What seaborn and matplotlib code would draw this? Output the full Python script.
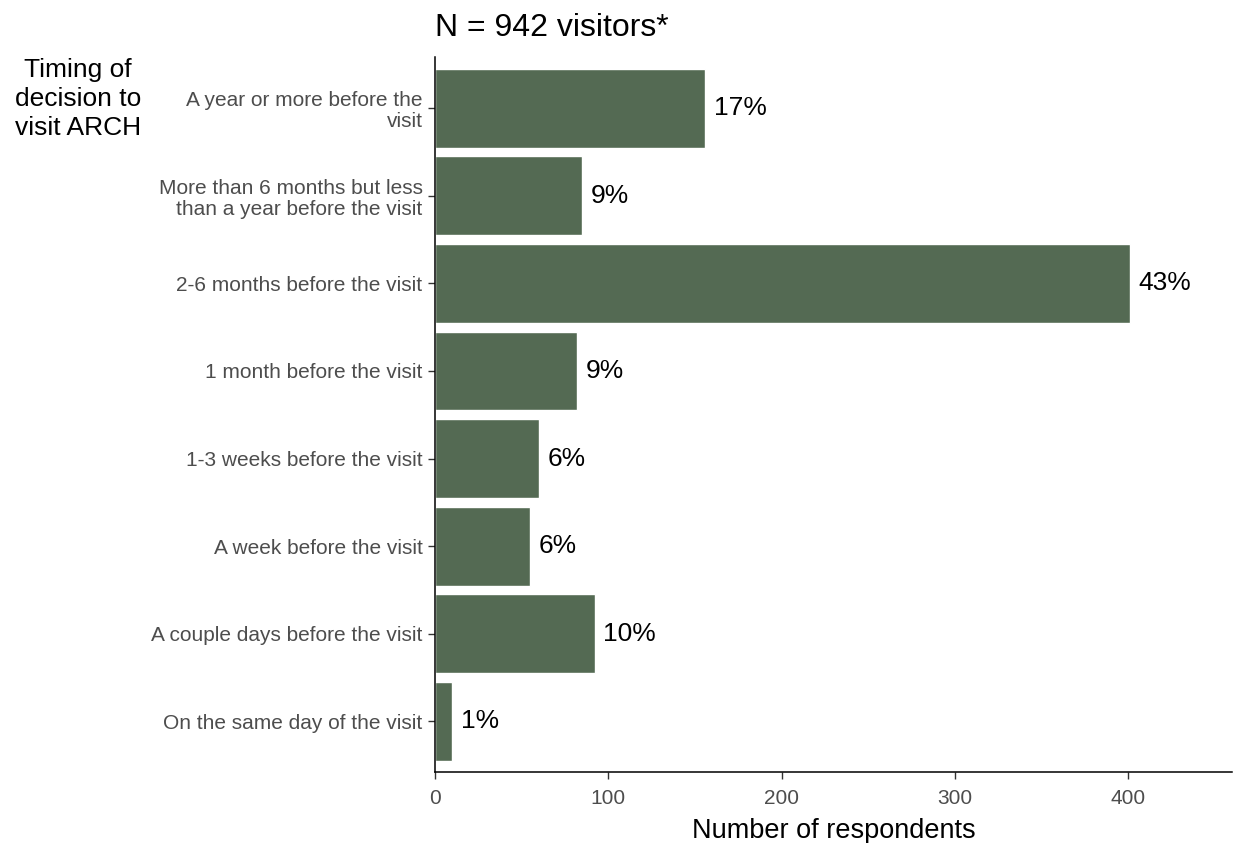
import pandas as pd
import matplotlib
matplotlib.use("Agg")
import matplotlib.pyplot as plt
import seaborn as sns


CATEGORIES = [
    "A year or more before the\nvisit",
    "More than 6 months but less\nthan a year before the visit",
    "2-6 months before the visit",
    "1 month before the visit",
    "1-3 weeks before the visit",
    "A week before the visit",
    "A couple days before the visit",
    "On the same day of the visit",
]
COUNTS = [156, 85, 401, 82, 60, 55, 92, 10]
PCT_LABELS = ["17%", "9%", "43%", "9%", "6%", "6%", "10%", "1%"]
X_TICKS = [0, 100, 200, 300, 400]

BAR_COLOR = "#546a53"


def main():
    sns.set_theme(style="ticks")
    plt.rcParams["font.family"] = ["Liberation Sans", "DejaVu Sans"]

    df = pd.DataFrame({"timing": CATEGORIES, "n": COUNTS, "pct": PCT_LABELS})

    fig = plt.figure(figsize=(12.36, 8.43), dpi=100)
    ax = fig.add_axes([0.352, 0.084, 0.645, 0.848])

    sns.barplot(
        data=df, y="timing", x="n", order=CATEGORIES,
        color=BAR_COLOR, saturation=1, width=0.9, ax=ax,
    )

    # percentage labels just right of each bar
    for i, (val, lab) in enumerate(zip(df["n"], df["pct"])):
        ax.text(val + 5, i, lab, va="center", ha="left",
                fontsize=19, color="black")

    ax.set_xlim(0, 460)
    ax.set_ylim(len(CATEGORIES) - 0.42, -0.58)
    ax.set_xticks(X_TICKS)
    ax.tick_params(axis="both", labelsize=15, colors="#333333",
                   labelcolor="#4d4d4d", length=5, width=1, pad=4)
    ax.tick_params(axis="x", pad=7)
    for lab in ax.get_yticklabels():
        lab.set_linespacing(1.15)

    ax.set_xlabel("Number of respondents", fontsize=19.5, color="black",
                  labelpad=7)
    ax.set_ylabel("")
    ax.set_title("N = 942 visitors*", fontsize=23, loc="left",
                 color="black", pad=15)
    fig.text(0.063, 0.931, "Timing of\ndecision to\nvisit ARCH",
             ha="center", va="top", fontsize=19, color="black",
             linespacing=1.26)

    sns.despine(ax=ax)
    for side in ("left", "bottom"):
        ax.spines[side].set_color("black")
        ax.spines[side].set_linewidth(1.1)

    fig.savefig("out.png", dpi=100)


if __name__ == "__main__":
    main()
